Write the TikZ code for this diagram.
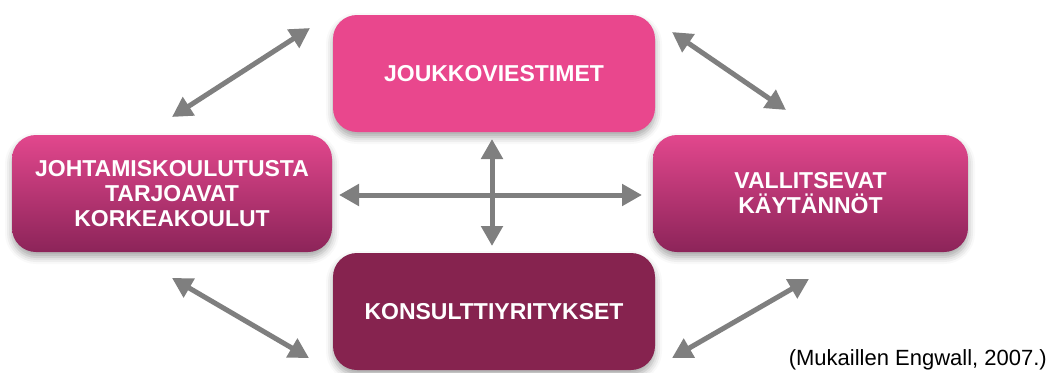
\documentclass[tikz,border=0pt]{standalone}
\usepackage{fontspec}
\setmainfont{Liberation Sans}
\usetikzlibrary{arrows.meta,shadows.blur}

\definecolor{pinkbright}{HTML}{E9478D}
\definecolor{pinktop}{HTML}{E2478D}
\definecolor{pinkbottom}{HTML}{8C2459}
\definecolor{plum}{HTML}{86234F}
\definecolor{arrowgray}{HTML}{7F7F7F}

\tikzset{
  box/.style={rounded corners=24pt, minimum height=117pt, align=center,
    text=white, font=\fontsize{23}{25}\selectfont\bfseries, inner sep=0pt,
    blur shadow={shadow xshift=0pt, shadow yshift=-5pt,
      shadow blur radius=7pt, shadow opacity=35}},
  graded/.style={box, top color=pinktop, bottom color=pinkbottom},
  link/.style={draw=arrowgray, line width=5pt,
    {Triangle[length=20pt,width=21pt]}-{Triangle[length=20pt,width=21pt]}},
}

\begin{document}
\begin{tikzpicture}[x=1pt,y=-1pt]
  \useasboundingbox (0,0) rectangle (1049,372);

  % the four actors
  \node[box, fill=pinkbright, minimum width=322pt] (media) at (494,73.5) {JOUKKOVIESTIMET};
  \node[graded, minimum width=320pt] (schools) at (172,193.5)
    {JOHTAMISKOULUTUSTA\\TARJOAVAT\\KORKEAKOULUT};
  \node[graded, minimum width=315pt] (practice) at (810.5,193.5)
    {VALLITSEVAT\\KÄYTÄNNÖT};
  \node[box, fill=plum, minimum width=322pt] (consult) at (494,311.5) {KONSULTTIYRITYKSET};

  % arrow end points between the boxes
  \coordinate (tlA) at (172,117);  \coordinate (tlB) at (310,28);
  \coordinate (trA) at (672,32);   \coordinate (trB) at (786,110);
  \coordinate (blA) at (172,278);  \coordinate (blB) at (309,358);
  \coordinate (brA) at (672,358);  \coordinate (brB) at (809,279);
  \coordinate (hA) at (339,195);   \coordinate (hB) at (642,195);
  \coordinate (vA) at (492,139);   \coordinate (vB) at (492,246);

  % two-way influences
  \draw[link] (tlA) -- (tlB);
  \draw[link] (trA) -- (trB);
  \draw[link] (blA) -- (blB);
  \draw[link] (brA) -- (brB);
  \draw[link] (hA) -- (hB);
  \draw[link] (vA) -- (vB);

  % source
  \node[anchor=east, inner sep=0pt, font=\fontsize{22}{25}\selectfont] (src)
    at (1047,360) {(Mukaillen Engwall, 2007.)};
\end{tikzpicture}
\end{document}
